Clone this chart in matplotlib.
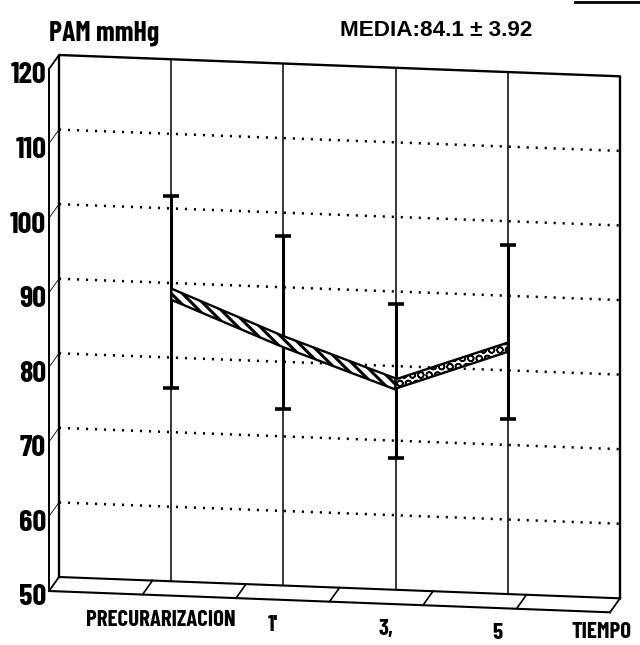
import math
import matplotlib
matplotlib.use("Agg")
import matplotlib.pyplot as plt
from matplotlib.transforms import Affine2D, IdentityTransform
from matplotlib.lines import Line2D

# Mean arterial pressure over time (mmHg)
categories = ["PRECURARIZACION", "1'", "3,", "5"]
pam_mean = [88.5, 82.7, 77.6, 83.1]
pam_upper = [101.7, 96.9, 88.3, 96.8]
pam_lower = [75.9, 73.7, 67.7, 73.5]
y_ticks = [50, 60, 70, 80, 90, 100, 110, 120]
y_title = "PAM mmHg"
x_title = "TIEMPO"
summary = "MEDIA:84.1 \u00b1 3.92"

NARROW = ["Barlow Condensed", "Fira Sans Condensed", "Roboto Condensed",
          "Saira Condensed", "Liberation Sans", "DejaVu Sans"]
REGULAR = ["Liberation Sans", "DejaVu Sans"]
plt.rcParams["font.family"] = NARROW
plt.rcParams["font.weight"] = "bold"
plt.rcParams["hatch.linewidth"] = 2.2

W, H = 640, 645
fig = plt.figure(figsize=(W / 100, H / 100), dpi=100)
ax = fig.add_axes([59 / W, 68 / H, 561 / W, 522 / H])
ymin, ymax = y_ticks[0], y_ticks[-1]
ncat = len(categories)
xpos = list(range(1, ncat + 1))
xmax = ncat + 1
ax.set_xlim(0, xmax)
ax.set_ylim(ymin, ymax)
ax.axis("off")

# oblique "3D" look: the back wall is sheared downward to the right,
# the front edge of the floor sits a little lower and to the left
x0 = 59
slope = -0.038
back = ax.transData + Affine2D().translate(-x0, 0).skew(0, math.atan(slope)).translate(x0, 0)
front = back + Affine2D().translate(-10, -14)

kw = dict(color="black", clip_on=False)


def bridge(x, y, lw=1.3):
    """Line from a point on the front edge to the same point on the back wall."""
    p1 = front.transform((x, y))
    p2 = back.transform((x, y))
    ax.add_line(Line2D([p1[0], p2[0]], [p1[1], p2[1]], transform=IdentityTransform(),
                       color="black", lw=lw, clip_on=False))


# back wall frame
ax.plot([0, 0, xmax, xmax], [ymin, ymax, ymax, ymin], transform=back, lw=1.7, **kw)
ax.plot([0, xmax], [ymin, ymin], transform=back, lw=1.5, **kw)

# left wall edge
ax.plot([0, 0], [ymin, ymax], transform=front, lw=1.4, **kw)
bridge(0, ymax)

# floor
ax.plot([0, xmax], [ymin, ymin], transform=front, lw=1.5, **kw)
bridge(0, ymin)
bridge(xmax, ymin)
floor_sections = 6
for k in range(1, floor_sections):
    bridge(k * xmax / floor_sections, ymin, lw=1.2)

# dotted horizontal grid
for v in y_ticks[1:-1]:
    ax.plot([0, xmax], [v, v], transform=back, lw=1.8, ls=(0, (0.85, 2.75)), **kw)
    bridge(0, v, lw=0.6)

# category lines
ax.vlines(xpos, ymin, ymax, transform=back, lw=1.1, **kw)

# error bars
ax.vlines(xpos, pam_lower, pam_upper, transform=back, lw=2.2, zorder=4, **kw)
for vals in (pam_lower, pam_upper):
    ax.plot(xpos, vals, ls="none", marker="_", ms=11, mew=2.6, transform=back, zorder=4, **kw)

# mean line drawn as a ribbon
half_a, half_b = 0.75, 0.62
xs = xpos[:3]
ys = pam_mean[:3]
ax.fill_between(xs, [y - half_a for y in ys], [y + half_a for y in ys], transform=back,
                facecolor="white", edgecolor="black", hatch="\\\\\\", lw=1.7,
                clip_on=False, zorder=5)
xs = xpos[2:]
ys = pam_mean[2:]
with plt.rc_context({"hatch.linewidth": 1.1}):
    ax.fill_between(xs, [y - half_b for y in ys], [y + half_b for y in ys], transform=back,
                    facecolor="white", edgecolor="black", hatch="OO", lw=1.7,
                    clip_on=False, zorder=5)

# y tick labels along the front edge
for v in y_ticks:
    ax.annotate(str(v), xy=(0, v), xycoords=front, xytext=(-2, -5), textcoords="offset points",
                ha="right", va="center", fontsize=22, fontweight="bold", annotation_clip=False)

# category labels on the floor
for x, lab in zip(xpos, categories):
    ax.annotate(lab, xy=(x, ymin), xycoords=front, xytext=(0, -18), textcoords="offset points",
                ha="center", va="center", fontsize=16.5, fontweight="bold", annotation_clip=False)
ax.annotate(x_title, xy=(xmax, ymin), xycoords=front, xytext=(-6, -14), textcoords="offset points",
            ha="center", va="center", fontsize=16.5, fontweight="bold", annotation_clip=False)

# titles
fig.text(49 / W, 1 - 33 / H, y_title, ha="left", va="center", fontsize=20, fontweight="bold")
fig.text(340 / W, 1 - 31 / H, summary, ha="left", va="center", fontsize=16.2,
         fontweight="bold", family=REGULAR)

# short rule at the top right
fig.add_artist(Line2D([575 / W, 1], [1 - 1.5 / H, 1 - 1.5 / H], color="black", lw=2))

fig.savefig("out.png", dpi=100, facecolor="white")
